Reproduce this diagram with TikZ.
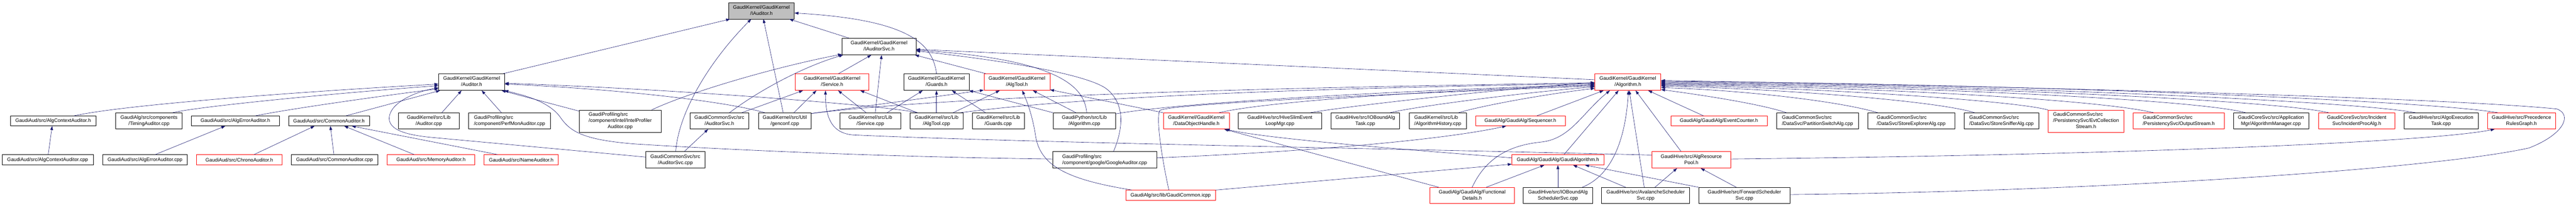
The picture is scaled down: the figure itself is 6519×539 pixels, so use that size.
\documentclass[tikz,border=0pt]{standalone}
\usepackage{fontspec}
\setmainfont{Liberation Sans}
\usetikzlibrary{arrows.meta}
\definecolor{edgeblue}{RGB}{25,25,112}
\definecolor{rootgray}{RGB}{191,191,191}
\newcommand\nodefont{\fontsize{12.6bp}{15.7bp}\selectfont}
\newcommand\NodeC[1]{\begin{tabular}{@{}c@{}}#1\end{tabular}}
\newcommand\NodeL[1]{\begin{tabular}{@{}l@{}}#1\end{tabular}}
\begin{document}
\begin{tikzpicture}[x=1bp,y=-1bp,
  nd/.style={draw=black, line width=0.8bp, inner sep=0pt, font=\nodefont},
  rnd/.style={nd, draw=red},
  wh/.style 2 args={minimum width=#1bp, minimum height=#2bp},
  conn/.style={draw=edgeblue, line width=0.8bp, -{Triangle[length=10bp,width=7bp]}}]
\useasboundingbox (0,0) rectangle (6519,539);
% ---------- nodes ----------
\node[nd, wh={166}{41}, fill=rootgray] (iaud) at (1927,27.5) {\NodeC{GaudiKernel/GaudiKernel\\/IAuditor.h}};
\node[nd, wh={187}{42}] (iaudsvc) at (2224.5,118) {\NodeC{GaudiKernel/GaudiKernel\\/IAuditorSvc.h}};
\node[nd, wh={167}{42}] (audh) at (1193.5,208) {\NodeC{GaudiKernel/GaudiKernel\\/Auditor.h}};
\node[rnd, wh={187}{42}] (servh) at (2105.5,208) {\NodeC{GaudiKernel/GaudiKernel\\/Service.h}};
\node[nd, wh={166}{42}] (guardsh) at (2370,208) {\NodeC{GaudiKernel/GaudiKernel\\/Guards.h}};
\node[rnd, wh={167}{42}] (algtoolh) at (2573.5,208) {\NodeC{GaudiKernel/GaudiKernel\\/AlgTool.h}};
\node[rnd, wh={167}{42}] (algh) at (4119.5,208) {\NodeC{GaudiKernel/GaudiKernel\\/Algorithm.h}};
% row D
\node[nd, wh={217}{25}] (actxh) at (134.5,306.5) {GaudiAud/src/AlgContextAuditor.h};
\node[nd, wh={168}{41}] (timing) at (377,306.5) {\NodeC{GaudiAlg/src/components\\/TimingAuditor.cpp}};
\node[nd, wh={223}{25}] (aerrh) at (595.5,306.5) {GaudiAud/src/AlgErrorAuditor.h};
\node[nd, wh={205}{25}] (commh) at (832.5,306.5) {GaudiAud/src/CommonAuditor.h};
\node[nd, wh={154}{41}] (audcpp) at (1085,306.5) {\NodeC{GaudiKernel/src/Lib\\/Auditor.cpp}};
\node[nd, wh={207}{41}] (perfmon) at (1289.5,306.5) {\NodeL{GaudiProfiling/src\\/component/PerfMonAuditor.cpp}};
\node[nd, wh={207}{56}] (intel) at (1569.5,307) {\NodeL{GaudiProfiling/src\\/component/intel/IntelProfiler\\\multicolumn{1}{@{}c@{}}{Auditor.cpp}}};
\node[nd, wh={149}{41}] (asvch) at (1820.5,306.5) {\NodeC{GaudiCommonSvc/src\\/AuditorSvc.h}};
\node[nd, wh={134}{41}] (genconf) at (1986,306.5) {\NodeC{GaudiKernel/src/Util\\/genconf.cpp}};
\node[nd, wh={155}{41}] (servcpp) at (2202.5,306.5) {\NodeC{GaudiKernel/src/Lib\\/Service.cpp}};
\node[nd, wh={134}{41}] (algtoolcpp) at (2370,306.5) {\NodeC{GaudiKernel/src/Lib\\/AlgTool.cpp}};
\node[nd, wh={132}{41}] (guardscpp) at (2526,306.5) {\NodeC{GaudiKernel/src/Lib\\/Guards.cpp}};
\node[nd, wh={158}{41}] (pyalg) at (2744,306.5) {\NodeC{GaudiPython/src/Lib\\/Algorithm.cpp}};
\node[rnd, wh={167}{41}] (doh) at (3027.5,306.5) {\NodeC{GaudiKernel/GaudiKernel\\/DataObjectHandle.h}};
\node[nd, wh={210}{41}] (hiveslim) at (3239,306.5) {\NodeC{GaudiHive/src/HiveSlimEvent\\LoopMgr.cpp}};
\node[nd, wh={174}{41}] (iobtask) at (3455,306.5) {\NodeC{GaudiHive/src/IOBoundAlg\\Task.cpp}};
\node[nd, wh={145}{41}] (alghist) at (3638.5,306.5) {\NodeL{GaudiKernel/src/Lib\\/AlgorithmHistory.cpp}};
\node[rnd, wh={227}{25}] (seqh) at (3847.5,306.5) {GaudiAlg/GaudiAlg/Sequencer.h};
\node[rnd, wh={244}{25}] (evtcnt) at (4350,306.5) {GaudiAlg/GaudiAlg/EventCounter.h};
\node[nd, wh={207}{41}] (partsw) at (4599.5,306.5) {\NodeL{GaudiCommonSvc/src\\/DataSvc/PartitionSwitchAlg.cpp}};
\node[nd, wh={221}{41}] (storeexp) at (4836.5,306.5) {\NodeL{GaudiCommonSvc/src\\/DataSvc/StoreExplorerAlg.cpp}};
\node[nd, wh={190}{41}] (storesniff) at (5065,306.5) {\NodeL{GaudiCommonSvc/src\\/DataSvc/StoreSnifferAlg.cpp}};
\node[rnd, wh={192}{56}] (evtcoll) at (5279,307) {\NodeL{GaudiCommonSvc/src\\/PersistencySvc/EvtCollection\\\multicolumn{1}{@{}c@{}}{Stream.h}}};
\node[rnd, wh={231}{41}] (outstream) at (5513.5,306.5) {\NodeL{GaudiCommonSvc/src\\/PersistencySvc/OutputStream.h}};
\node[nd, wh={190}{41}] (algmgr) at (5747,306.5) {\NodeC{GaudiCoreSvc/src/Application\\Mgr/AlgorithmManager.cpp}};
\node[rnd, wh={194}{41}] (incproc) at (5964,306.5) {\NodeC{GaudiCoreSvc/src/Incident\\Svc/IncidentProcAlg.h}};
\node[nd, wh={187}{41}] (algoexec) at (6177.5,306.5) {\NodeC{GaudiHive/src/AlgoExecution\\Task.cpp}};
\node[rnd, wh={172}{41}] (precrules) at (6381,306.5) {\NodeC{GaudiHive/src/Precedence\\RulesGraph.h}};
% row E
\node[nd, wh={231}{26}] (actxcpp) at (120.5,405) {GaudiAud/src/AlgContextAuditor.cpp};
\node[nd, wh={214}{26}] (aerrcpp) at (367,405) {GaudiAud/src/AlgErrorAuditor.cpp};
\node[rnd, wh={217}{26}] (chrono) at (605.5,405) {GaudiAud/src/ChronoAuditor.h};
\node[nd, wh={219}{26}] (commcpp) at (846.5,405) {GaudiAud/src/CommonAuditor.cpp};
\node[rnd, wh={221}{26}] (memory) at (1090.5,405) {GaudiAud/src/MemoryAuditor.h};
\node[rnd, wh={188}{26}] (nameaud) at (1319,405) {GaudiAud/src/NameAuditor.h};
\node[nd, wh={150}{42}] (asvccpp) at (1709,405) {\NodeC{GaudiCommonSvc/src\\/AuditorSvc.cpp}};
\node[nd, wh={263}{42}] (google) at (2795.5,405) {\NodeL{GaudiProfiling/src\\/component/google/GoogleAuditor.cpp}};
\node[rnd, wh={233}{26}] (gaudialgh) at (3942.5,405) {GaudiAlg/GaudiAlg/GaudiAlgorithm.h};
\node[rnd, wh={200}{42}] (respool) at (4280,405) {\NodeC{GaudiHive/src/AlgResource\\Pool.h}};
% row F
\node[rnd, wh={227}{26}] (gcommon) at (2962.5,495) {GaudiAlg/src/lib/GaudiCommon.icpp};
\node[rnd, wh={213}{41}] (funcdet) at (3725.5,495.5) {\NodeC{GaudiAlg/GaudiAlg/Functional\\Details.h}};
\node[nd, wh={175}{41}] (iobsched) at (3942.5,495.5) {\NodeC{GaudiHive/src/IOBoundAlg\\SchedulerSvc.cpp}};
\node[nd, wh={223}{41}] (avalanche) at (4164.5,495.5) {\NodeC{GaudiHive/src/AvalancheScheduler\\Svc.cpp}};
\node[nd, wh={231}{41}] (forward) at (4414.5,495.5) {\NodeC{GaudiHive/src/ForwardScheduler\\Svc.cpp}};
% ---------- edges: Auditor.h ----------
\draw[conn] ([xshift=-4bp]audh.north east) -- ([xshift=4bp]iaud.south west);
\draw[conn] ([xshift=52.5bp]actxh.north) .. controls (300,268) and (700,236) .. ([yshift=-5bp]audh.west);
\draw[conn] ([xshift=60bp]timing.north) .. controls (490,272) and (800,240) .. ([yshift=-9bp]audh.west);
\draw[conn] ([xshift=50.5bp]aerrh.north) .. controls (720,278) and (950,245) .. ([yshift=-17bp]audh.west);
\draw[conn] ([xshift=42.5bp]commh.north) -- ([xshift=4bp]audh.south west);
\draw[conn] ([yshift=7bp]asvccpp.west) -- (1090,348) .. controls (1030,342) and (985,330) .. (985,300) .. controls (985,265) and (1040,235) .. ([yshift=-14bp]audh.west);
\draw[conn] ([xshift=33bp]audcpp.north) -- ([xshift=-25.5bp]audh.south);
\draw[conn] ([xshift=-20.5bp]perfmon.north) -- ([xshift=25.5bp]audh.south);
\draw[conn] ([yshift=-3bp]intel.north west) -- ([xshift=-8bp]audh.south east);
\draw[conn] ([yshift=2bp]google.west) .. controls (2250,398) and (1850,380) .. (1609,365) .. controls (1480,355) and (1445,335) .. (1420,300) .. controls (1390,255) and (1320,240) .. ([xshift=-1bp]audh.south east);
\draw[conn] ([xshift=17bp]genconf.north west) .. controls (1830,255) and (1550,225) .. ([yshift=-5bp]audh.east);
\draw[conn] ([xshift=19bp]algtoolcpp.north west) .. controls (2250,268) and (1700,225) .. ([yshift=-3bp]audh.east);
\draw[conn] ([xshift=1.5bp]actxcpp.north) -- ([xshift=-2.5bp]actxh.south);
\draw[conn] ([xshift=26bp]aerrcpp.north) -- ([xshift=-25.5bp]aerrh.south);
\draw[conn] ([xshift=37.5bp]chrono.north) -- ([xshift=-36.5bp]commh.south);
\draw[conn] ([xshift=-1.5bp]commcpp.north) -- ([xshift=3.5bp]commh.south);
\draw[conn] ([xshift=-42.5bp]memory.north) -- ([xshift=38.5bp]commh.south);
\draw[conn] ([xshift=-60bp]nameaud.north) -- ([xshift=57.5bp]commh.south);
% ---------- IAuditor.h ----------
\draw[conn] ([xshift=1bp]asvccpp.north) .. controls (1718,280) and (1800,150) .. ([xshift=-26bp]iaud.south);
\draw[conn] ([xshift=-4bp]genconf.north) -- ([xshift=5bp]iaud.south);
\draw[conn] ([xshift=18bp]iaudsvc.north west) -- ([xshift=-13bp]iaud.south east);
\draw[conn] (guardsh.north) .. controls (2360,110) and (2300,50) .. ([yshift=-5.5bp]iaud.east);
% ---------- IAuditorSvc.h ----------
\draw[conn] ([xshift=79.5bp]intel.north) .. controls (1740,235) and (1960,170) .. ([yshift=2bp]iaudsvc.south west);
\draw[conn] ([xshift=25.5bp]asvch.north) .. controls (1920,230) and (2030,170) .. ([xshift=3bp]iaudsvc.south west);
\draw[conn] ([xshift=16.5bp]servh.north) -- ([xshift=-19.5bp]iaudsvc.south);
\draw[conn] ([xshift=12.5bp]servcpp.north) -- ([xshift=6.5bp]iaudsvc.south);
\draw[conn] ([xshift=5bp]algtoolh.north west) -- ([xshift=-3bp]iaudsvc.south east);
\draw[conn] ([yshift=6bp]algh.west) -- ([yshift=-7bp]iaudsvc.east);
\draw[conn] ([xshift=6bp]pyalg.north) .. controls (2745,220) and (2680,150) .. ([yshift=-9bp]iaudsvc.east);
\draw[conn] ([xshift=22.5bp]google.north) .. controls (2845,320) and (2845,260) .. (2800,225) .. controls (2760,195) and (2600,160) .. ([yshift=-11bp]iaudsvc.east);
% ---------- AuditorSvc.h ----------
\draw[conn] ([xshift=23bp]asvccpp.north) -- ([xshift=-28.5bp]asvch.south);
% ---------- Service.h ----------
\draw[conn] ([xshift=56.5bp]asvch.north) -- ([xshift=-73.5bp]servh.south);
\draw[conn] ([xshift=23bp]genconf.north) -- ([xshift=-39.5bp]servh.south);
\draw[conn] ([yshift=12bp]respool.west) .. controls (3600,378) and (2600,362) .. (2160,342) .. controls (2100,338) and (2089,290) .. ([xshift=-16.5bp]servh.south);
\draw[conn] ([xshift=-10.5bp]servcpp.north) -- ([xshift=15.5bp]servh.south);
\draw[conn] ([xshift=19bp]algtoolcpp.north west) -- ([xshift=71.5bp]servh.south);
% ---------- Guards.h ----------
\draw[conn] ([xshift=42.5bp]servcpp.north) -- ([xshift=-35bp]guardsh.south);
\draw[conn] (algtoolcpp.north) -- (guardsh.south);
\draw[conn] ([xshift=-32bp]guardscpp.north) -- ([xshift=39bp]guardsh.south);
\draw[conn] (pyalg.north west) -- ([xshift=-1bp]guardsh.south east);
% ---------- AlgTool.h ----------
\draw[conn] ([xshift=42bp]algtoolcpp.north) -- ([xshift=-43.5bp]algtoolh.south);
\draw[conn] ([yshift=-2bp]genconf.north east) -- ([yshift=1bp]algtoolh.south west);
\draw[conn] (doh.north west) -- ([yshift=2bp]algtoolh.south east);
\draw[conn] ([xshift=-21bp]pyalg.north) -- ([xshift=40.5bp]algtoolh.south);
\draw[conn] ([xshift=16bp]gcommon.north west) .. controls (2700,455) and (2630,420) .. (2620,340) .. controls (2612,290) and (2598,255) .. ([xshift=13.5bp]algtoolh.south);
% ---------- Algorithm.h (left and below) ----------
\draw[conn] ([yshift=-2bp]genconf.north east) .. controls (2350,250) and (3000,225) .. ([yshift=-2bp]algh.west);
\draw[conn] ([xshift=-7bp]algtoolcpp.north east) .. controls (2700,250) and (3200,225) .. ([yshift=-4bp]algh.west);
\draw[conn] ([yshift=-3bp]pyalg.north east) .. controls (2950,265) and (3400,235) .. ([yshift=-6bp]algh.west);
\draw[conn] ([xshift=57.5bp]doh.north) .. controls (3200,258) and (3600,230) .. ([yshift=-8bp]algh.west);
\draw[conn] ([xshift=-4.5bp]gcommon.north) .. controls (2940,400) and (2925,300) .. (2935,280) .. controls (2960,262) and (3600,235) .. ([yshift=-10bp]algh.west);
\draw[conn] ([xshift=77bp]hiveslim.north) .. controls (3400,270) and (3800,225) .. ([yshift=-1bp]algh.west);
\draw[conn] ([xshift=63bp]iobtask.north) .. controls (3580,270) and (3850,235) .. ([yshift=-12bp]algh.west);
\draw[conn] ([xshift=52.5bp]alghist.north) .. controls (3750,268) and (3900,240) .. ([yshift=-16bp]algh.west);
\draw[conn] ([xshift=41.5bp]seqh.north) -- ([xshift=-61.5bp]algh.south);
\draw[conn] (funcdet.north) .. controls (3760,400) and (3820,368) .. (3900,360) .. controls (3975,352) and (4005,285) .. ([xshift=-45.5bp]algh.south);
\draw[conn] ([xshift=15.5bp]gaudialgh.north) -- ([xshift=-23.5bp]algh.south);
\draw[conn] ([xshift=61.5bp]iobsched.north) .. controls (4090,440) and (4115,330) .. ([xshift=1.5bp]algh.south);
\draw[conn] ([xshift=-3.5bp]avalanche.north) -- ([xshift=3.5bp]algh.south);
\draw[conn] ([xshift=-26bp]respool.north) -- ([xshift=19.5bp]algh.south);
\draw[conn] ([xshift=-39bp]evtcnt.north) -- ([xshift=51.5bp]algh.south);
% ---------- Algorithm.h (right) ----------
\draw[conn] ([xshift=-78.5bp]partsw.north) .. controls (4450,262) and (4300,240) .. ([yshift=-19bp]algh.east);
\draw[conn] ([xshift=-84.5bp]storeexp.north) .. controls (4650,255) and (4400,228) .. ([yshift=-14bp]algh.east);
\draw[conn] ([xshift=-68bp]storesniff.north) .. controls (4900,255) and (4500,225) .. ([yshift=-10bp]algh.east);
\draw[conn] (evtcoll.north west) .. controls (5100,255) and (4600,222) .. ([yshift=-8bp]algh.east);
\draw[conn] ([xshift=-63.5bp]outstream.north) .. controls (5300,250) and (4700,220) .. ([yshift=-6bp]algh.east);
\draw[conn] ([xshift=-64bp]algmgr.north) .. controls (5550,250) and (4800,218) .. ([yshift=-4bp]algh.east);
\draw[conn] ([xshift=-71bp]incproc.north) .. controls (5750,252) and (4900,216) .. ([yshift=-2bp]algh.east);
\draw[conn] ([xshift=-64.5bp]algoexec.north) .. controls (5950,255) and (5000,214) .. (algh.east);
\draw[conn] ([xshift=-60bp]precrules.north) .. controls (6150,255) and (5100,212) .. ([yshift=2bp]algh.east);
\draw[conn] ([yshift=2.5bp]forward.east) .. controls (5300,485) and (6150,430) .. (6400,375) .. controls (6490,340) and (6510,290) .. (6470,276) .. controls (6100,240) and (4700,212) .. ([yshift=4bp]algh.east);
% ---------- Sequencer.h ----------
\draw[conn] ([yshift=5bp]google.east) .. controls (3300,385) and (3650,355) .. ([xshift=78bp]seqh.south west);
% ---------- GaudiAlgorithm.h ----------
\draw[conn] (gcommon.north east) -- ([yshift=-11bp]gaudialgh.west);
\draw[conn] ([xshift=35.5bp]funcdet.north) -- ([xshift=-34.5bp]gaudialgh.south);
\draw[conn] (iobsched.north) -- (gaudialgh.south);
\draw[conn] ([xshift=-50.5bp]avalanche.north) -- ([xshift=38.5bp]gaudialgh.south);
\draw[conn] (forward.north west) -- ([xshift=68.5bp]gaudialgh.south);
% ---------- DataObjectHandle.h ----------
\draw[conn] ([xshift=-84.5bp]funcdet.north) -- ([xshift=70.5bp]doh.south);
\draw[conn] ([yshift=5bp]gaudialgh.west) .. controls (3500,375) and (3200,350) .. ([xshift=74.5bp]doh.south);
% ---------- AlgResourcePool.h ----------
\draw[conn] ([xshift=23.5bp]avalanche.north) -- ([xshift=-36bp]respool.south);
\draw[conn] ([xshift=-20.5bp]forward.north) -- ([xshift=24bp]respool.south);
% ---------- PrecedenceRulesGraph.h ----------
\draw[conn] ([yshift=2bp]respool.east) .. controls (5400,392) and (6150,360) .. ([xshift=-68bp]precrules.south);
\end{tikzpicture}
\end{document}
